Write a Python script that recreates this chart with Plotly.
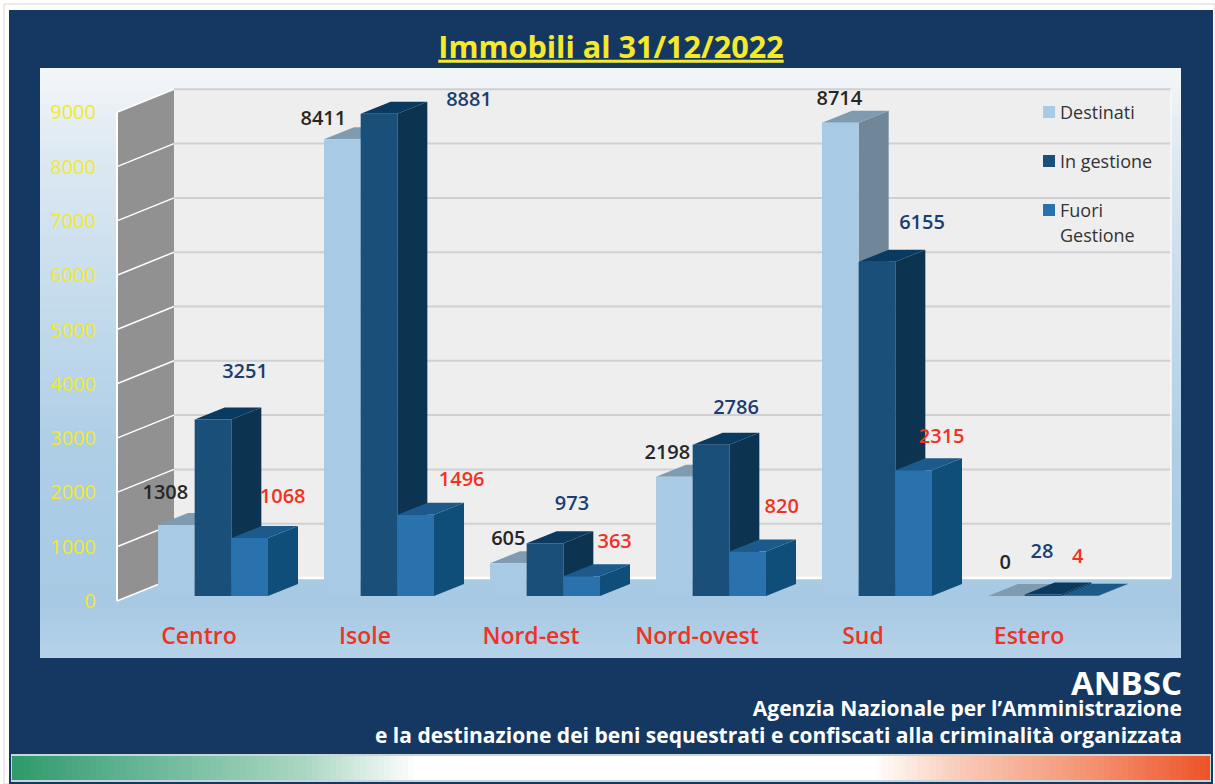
import plotly.graph_objects as go

TITLE = "Immobili al 31/12/2022"
CATEGORIES = ["Centro", "Isole", "Nord-est", "Nord-ovest", "Sud", "Estero"]
DESTINATI = [1308, 8411, 605, 2198, 8714, 0]
IN_GESTIONE = [3251, 8881, 973, 2786, 6155, 28]
FUORI_GESTIONE = [1068, 1496, 363, 820, 2315, 4]
SERIES_NAMES = ["Destinati", "In gestione", "Fuori<br>Gestione"]
Y_TICKS = [0, 1000, 2000, 3000, 4000, 5000, 6000, 7000, 8000, 9000]
FOOTER_HEAD = "ANBSC"
FOOTER_LINES = ["Agenzia Nazionale per l\u2019Amministrazione",
                "e la destinazione dei beni sequestrati e confiscati alla criminalit\u00e0 organizzata"]

# ---- geometry constants (pixels on the 1215x784 page) ----
W, H = 1215, 784
CAT_PX = 166.0          # pixels per category
X0_PX = 199.0           # pixel of first category tick
PX_PER_UNIT = 0.0543    # pixels per value unit
Y0_PX = 601.0           # pixel of value 0 on the wall front edge
BAR_W = 36.67 / CAT_PX
BAR_START = -41 / CAT_PX
BAR_DX, BAR_DY = 30 / CAT_PX, 12 / PX_PER_UNIT
BAR_BASE = 5 / PX_PER_UNIT
WALL_X = (117 - X0_PX) / CAT_PX
WALL_DX, WALL_DY = 57 / CAT_PX, 23 / PX_PER_UNIT
WALL_RIGHT = (1171 - X0_PX) / CAT_PX

FRONT = ["#a9cae5", "#1a4f7a", "#2a72ae"]
SIDE = ["#6f8799", "#0c3350", "#0f4e78"]
TOP = ["#7f9bb1", "#0a3a5f", "#1b5a8a"]
LABEL_COL = ["#262626", "#1a3e6e", "#ee3324"]
# label offsets in pixels from centre of each bar's front-top edge
LABEL_OFF = [
    [(-11, -31), (-19, -19), (0, -23), (-7, -23), (-1, -23), (-1, -32)],
    [(32, -46), (90, -13), (27, -38), (25, -36), (45, -38), (-1, -41)],
    [(33, -40), (46, -34), (33, -33), (34, -43), (28, -32), (-2, -38)],
]
FONT = "Open Sans"


def hex2rgb(h):
    return [int(h[k:k + 2], 16) for k in (1, 3, 5)]


def ramp(stops, p):
    for (a, ca), (b, cb) in zip(stops, stops[1:]):
        if a <= p <= b:
            t = (p - a) / (b - a)
            r = [round(u + (v - u) * t) for u, v in zip(hex2rgb(ca), hex2rgb(cb))]
            return "rgb(%d,%d,%d)" % tuple(r)
    return stops[-1][1]


def prect(x0, y0, x1, y1, color, **kw):
    return dict(type="rect", xref="paper", yref="paper", x0=x0 / W, x1=x1 / W,
                y0=1 - y0 / H, y1=1 - y1 / H, fillcolor=color, layer="below",
                line=kw.get("line", dict(width=0)))


shapes = [
    prect(4, 4, 1215, 784, "#ffffff", line=dict(color="#d9d6d6", width=1)),
    prect(9, 10, 1213, 784, "#153863"),
]
# panel vertical gradient
PANEL_STOPS = [(68, "#f3f6f9"), (150, "#dde9f2"), (300, "#c4dbec"), (450, "#aecee6"),
               (600, "#a7c9e3"), (658, "#b7d3e9")]
step = 6
for y in range(68, 658, step):
    shapes.append(prect(40, y, 1181, min(y + step + 1, 658), ramp(PANEL_STOPS, y)))
# bottom strip horizontal gradient
STRIP_STOPS = [(12, "#2f9a6b"), (120, "#5fb291"), (300, "#a9d6c1"), (415, "#ffffff"),
               (870, "#ffffff"), (960, "#f8c9b6"), (1100, "#f38d6b"), (1210, "#ee5025")]
shapes.append(prect(11, 754, 1211, 782, "#c9d6d9"))
for x in range(12, 1210, step):
    shapes.append(prect(x, 756, min(x + step + 1, 1210), 780, ramp(STRIP_STOPS, x)))

fig = go.Figure()


def poly(xs, ys, color):
    fig.add_trace(go.Scatter(x=xs, y=ys, mode="none", fill="toself", fillcolor=color,
                             hoverinfo="skip", showlegend=False))


def line(xs, ys, color, width):
    fig.add_trace(go.Scatter(x=xs, y=ys, mode="lines", line=dict(color=color, width=width),
                             hoverinfo="skip", showlegend=False))


back_x = WALL_X + WALL_DX
top_v = Y_TICKS[-1]
# back wall
poly([back_x, WALL_RIGHT, WALL_RIGHT, back_x], [WALL_DY, WALL_DY, top_v + WALL_DY, top_v + WALL_DY], "#eeeeee")
for t in Y_TICKS[1:]:
    line([back_x, WALL_RIGHT], [t + WALL_DY, t + WALL_DY], "#cfd0d3", 2)
line([back_x, WALL_RIGHT], [WALL_DY, WALL_DY], "#ffffff", 2.5)
line([WALL_RIGHT, WALL_RIGHT], [WALL_DY, top_v + WALL_DY], "#f8f9fa", 1.5)
# left wall
poly([WALL_X, back_x, back_x, WALL_X], [0, WALL_DY, top_v + WALL_DY, top_v], "#919191")
for t in Y_TICKS:
    line([WALL_X, back_x], [t, t + WALL_DY], "#ffffff", 1.5)
line([WALL_X, WALL_X], [0, top_v], "#ffffff", 2)

# bars
all_series = [DESTINATI, IN_GESTIONE, FUORI_GESTIONE]
for i, _ in enumerate(CATEGORIES):
    for j, vals in enumerate(all_series):
        v = vals[i] + BAR_BASE
        xl = i + BAR_START + j * BAR_W
        xr = xl + BAR_W
        poly([xr, xr + BAR_DX, xr + BAR_DX, xr],
             [BAR_BASE, BAR_BASE + BAR_DY, v + BAR_DY, v], SIDE[j])
        poly([xl, xr, xr + BAR_DX, xl + BAR_DX], [v, v, v + BAR_DY, v + BAR_DY], TOP[j])
        poly([xl, xr, xr, xl], [BAR_BASE, BAR_BASE, v, v], FRONT[j])

# data labels
for j, vals in enumerate(all_series):
    lx = [i + BAR_START + (j + 0.5) * BAR_W + LABEL_OFF[j][i][0] / CAT_PX for i in range(len(vals))]
    ly = [vals[i] + BAR_BASE - LABEL_OFF[j][i][1] / PX_PER_UNIT for i in range(len(vals))]
    fig.add_trace(go.Scatter(x=lx, y=ly, mode="text", text=[str(v) for v in vals],
                             textposition="middle center", hoverinfo="skip", showlegend=False,
                             textfont=dict(family=FONT, size=20, color=LABEL_COL[j], weight=600)))

annotations = []
# legend (keys + text)
LEG_Y = [112, 161, 210]
LEG_LINE = 25
for j, name in enumerate(SERIES_NAMES):
    shapes.append(dict(type="rect", xref="paper", yref="paper", layer="above",
                       x0=1043 / W, x1=1055 / W, y0=1 - (LEG_Y[j] - 6) / H, y1=1 - (LEG_Y[j] + 6) / H,
                       fillcolor=FRONT[j], line=dict(width=0)))
    for n, part in enumerate(name.split("<br>")):
        annotations.append(dict(xref="paper", yref="paper", x=1059 / W, y=1 - (LEG_Y[j] + n * LEG_LINE) / H,
                                xanchor="left", yanchor="middle", align="left", showarrow=False, text=part,
                                font=dict(family=FONT, size=18, color="#333333"), borderpad=0))
# footer
annotations.append(dict(xref="paper", yref="paper", x=1183 / W, y=1 - 682 / H, xanchor="right",
                        yanchor="middle", showarrow=False, text=FOOTER_HEAD, borderpad=0,
                        font=dict(family=FONT, size=33, color="#ffffff", weight=700)))
annotations.append(dict(xref="paper", yref="paper", x=1183 / W, y=1 - 721.5 / H, xanchor="right",
                        yanchor="middle", align="right", showarrow=False, text="<br>".join(FOOTER_LINES),
                        borderpad=0, font=dict(family=FONT, size=21, color="#ffffff", weight=700)))

fig.update_layout(
    width=W, height=H, autosize=False,
    margin=dict(l=0, r=0, t=0, b=0),
    paper_bgcolor="#ffffff", plot_bgcolor="rgba(0,0,0,0)",
    showlegend=False,
    shapes=shapes, annotations=annotations,
    title=dict(text=TITLE, x=611 / W, xanchor="center", y=1 - 47 / H, yanchor="middle",
               font=dict(family=FONT, size=30.6, color="#f5ea2a", weight=700, lineposition="under")),
    xaxis=dict(range=[-X0_PX / CAT_PX, (W - X0_PX) / CAT_PX], tickmode="array",
               tickvals=list(range(len(CATEGORIES))), ticktext=CATEGORIES,
               anchor="free", position=1 - 620 / H, showgrid=False, zeroline=False,
               showline=False, ticks="",
               tickfont=dict(family=FONT, size=23, color="#ee3324", weight=600)),
    yaxis=dict(range=[(Y0_PX - H) / PX_PER_UNIT, Y0_PX / PX_PER_UNIT], tickmode="array",
               tickvals=Y_TICKS, anchor="free", position=96 / W, showgrid=False, zeroline=False,
               showline=False, ticks="",
               tickfont=dict(family=FONT, size=20, color="#f0e92e")),
)

fig.write_html("out.html", config=dict(displayModeBar=False),
               post_script="document.body.style.margin='0';document.body.style.overflow='hidden';")
